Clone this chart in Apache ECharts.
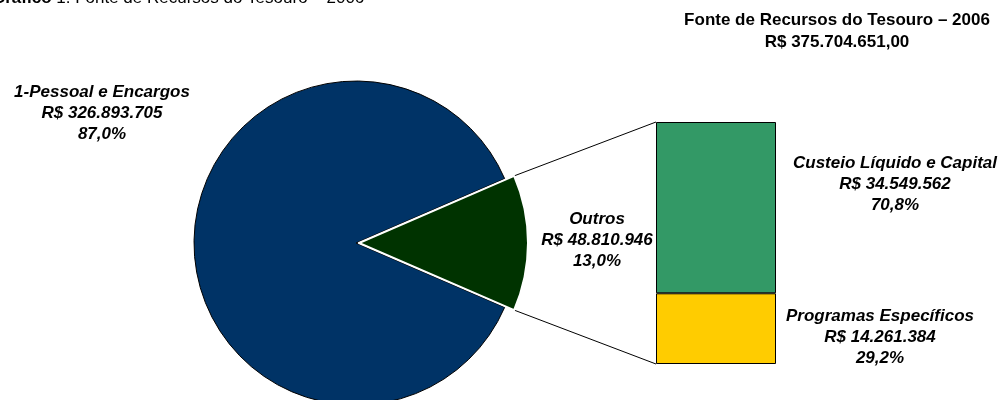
<!DOCTYPE html>
<html>
<head>
<meta charset="utf-8">
<script src="https://cdn.jsdelivr.net/npm/echarts@6/dist/echarts.min.js"></script>
<style>
html, body { margin: 0; padding: 0; background: #fff; }
#chart { width: 1003px; height: 400px; }
</style>
</head>
<body>
<div id="chart"></div>
<script>
// dados
var pieNames = ['Outros', '1-Pessoal e Encargos'];
var pieValues = [48810946, 326893705];
var barNames = ['Programas Específicos', 'Custeio Líquido e Capital'];
var barValues = [14261384, 34549562];
var chartTitle = 'Fonte de Recursos do Tesouro – 2006';
var totalText = 'R$ 375.704.651,00';

var FONT = '"Liberation Sans", Arial, sans-serif';
var pieColors = ['#003300', '#003366'];
var barColors = ['#FFCC00', '#339966'];

function fmtNum(v) {
	return String(v).replace(/\B(?=(\d{3})+(?!\d))/g, '.');
}
function fmtPct(v, tot) {
	return (v / tot * 100).toFixed(1).replace('.', ',') + '%';
}
function sum(a) {
	return a.reduce(function(s, v) { return s + v; }, 0);
}

var pieTotal = sum(pieValues);
var barTotal = sum(barValues);
var half = 180 * pieValues[0] / pieTotal; // meia abertura da fatia "Outros"

var pieCenter = [356, 243], pieR = 162;
var outCenter = [359, 243], outR = 169;
var gridBox = { left: 656, top: 122, width: 120, height: 242 };

var chart = echarts.init(document.getElementById('chart'));

function pieData(show) {
	return pieValues.map(function(v, i) {
		var on = show === i;
		return {
			name: pieNames[i],
			value: v,
			itemStyle: on ? {
				color: pieColors[i],
				borderColor: i === 0 ? '#fff' : '#000',
				borderWidth: i === 0 ? 2 : 1
			} : { color: 'rgba(0,0,0,0)', borderWidth: 0 }
		};
	});
}

var option = {
	backgroundColor: '#fff',
	animation: false,
	grid: gridBox,
	xAxis: { type: 'category', data: ['Outros'], show: false },
	yAxis: { type: 'value', min: 0, max: barTotal, show: false },
	series: [{
		type: 'pie',
		silent: true,
		center: pieCenter,
		radius: pieR,
		startAngle: half,
		clockwise: true,
		label: { show: false },
		labelLine: { show: false },
		data: pieData(1)
	}, {
		type: 'pie',
		silent: true,
		center: outCenter,
		radius: outR,
		startAngle: half,
		clockwise: true,
		label: { show: false },
		labelLine: { show: false },
		data: pieData(0)
	}].concat(barValues.map(function(v, i) {
		return {
			type: 'bar',
			name: barNames[i],
			stack: 'outros',
			barWidth: '100%',
			silent: true,
			itemStyle: { color: barColors[i], borderColor: '#000', borderWidth: 1 },
			data: [v]
		};
	}))
};
chart.setOption(option);

// linhas de ligação entre a fatia e a barra
var rad = half * Math.PI / 180;
var wedgeTop = [outCenter[0] + outR * Math.cos(rad), outCenter[1] - outR * Math.sin(rad)];
var wedgeBot = [outCenter[0] + outR * Math.cos(rad), outCenter[1] + outR * Math.sin(rad)];
var barTopY = chart.convertToPixel({ yAxisIndex: 0 }, barTotal);
var barBotY = chart.convertToPixel({ yAxisIndex: 0 }, 0);

function label(x, y, lines, z) {
	return {
		type: 'text',
		z: z || 10,
		style: {
			text: lines.join('\n'),
			x: x, y: y,
			align: 'center',
			verticalAlign: 'middle',
			font: 'italic bold 17px ' + FONT,
			lineHeight: 21,
			fill: '#000'
		}
	};
}

chart.setOption({
	graphic: [{
		type: 'line', z: 1,
		shape: { x1: wedgeTop[0], y1: wedgeTop[1], x2: gridBox.left, y2: barTopY },
		style: { stroke: '#000', lineWidth: 1 }
	}, {
		type: 'line', z: 1,
		shape: { x1: wedgeBot[0], y1: wedgeBot[1], x2: gridBox.left, y2: barBotY },
		style: { stroke: '#000', lineWidth: 1 }
	}, {
		type: 'text',
		style: {
			x: -8, y: -2,
			verticalAlign: 'middle',
			text: '{b|Gráfico} ' + '1: ' + chartTitle,
			font: '17px ' + FONT,
			fill: '#000',
			rich: { b: { fontWeight: 'bold', fontSize: 17, fontFamily: FONT } }
		}
	}, {
		type: 'text',
		style: {
			x: 837, y: 31,
			align: 'center',
			verticalAlign: 'middle',
			text: chartTitle + '\n' + totalText,
			font: 'bold 17px ' + FONT,
			lineHeight: 22,
			fill: '#000'
		}
	},
	label(102, 113, [pieNames[1], 'R$ ' + fmtNum(pieValues[1]), fmtPct(pieValues[1], pieTotal)]),
	label(597, 240, [pieNames[0], 'R$ ' + fmtNum(pieValues[0]), fmtPct(pieValues[0], pieTotal)], 0),
	label(895, 184, [barNames[1], 'R$ ' + fmtNum(barValues[1]), fmtPct(barValues[1], barTotal)]),
	label(880, 337, [barNames[0], 'R$ ' + fmtNum(barValues[0]), fmtPct(barValues[0], barTotal)])
	]
});
</script>
</body>
</html>
